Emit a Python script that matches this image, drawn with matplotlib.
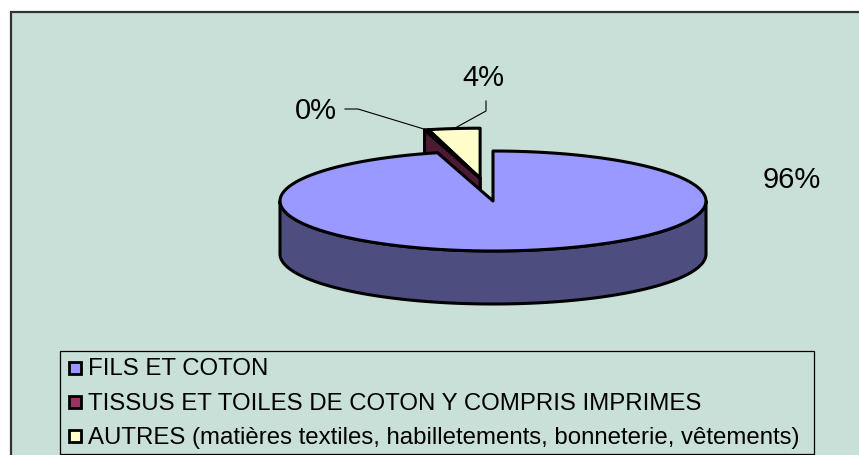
import matplotlib
matplotlib.use("Agg")
import matplotlib.pyplot as plt
from matplotlib.patches import Polygon, Rectangle
import numpy as np

plt.rcParams['font.family'] = ['Liberation Sans', 'DejaVu Sans']

# données
categories = ['FILS ET COTON',
              'TISSUS ET TOILES DE COTON Y COMPRIS IMPRIMES',
              'AUTRES (matières textiles, habilletements, bonneterie, vêtements)']
values = [95.8, 0.3, 3.9]
explode = [0.0, 0.46, 0.46]
top_colors = ['#9999FF', '#993366', '#FFFFCC']
side_colors = ['#4D4D80', '#4D1A33', '#808066']

# mise en page (pixels)
W, H = 859, 456
cx, cy, rx, ry, depth = 493, 202, 213, 50, 53
label_pos = [(792, 188), (337, 119), (483, 86)]
label_ha = ['center', 'right', 'center']
leader_pts = [None, [(358, 110), (345, 110)], [(486, 112), (486, 102)]]
bg = '#C8E0D8'
lw = 2.2

fig = plt.figure(figsize=(W / 100, H / 100), dpi=100)
fig.patch.set_facecolor('white')
ax = fig.add_axes([0, 0, 1, 1])
ax.set_xlim(0, W)
ax.set_ylim(H, 0)
ax.axis('off')

# cadre du graphique
ax.add_patch(Rectangle((10.5, 12.5), W + 20, H + 20, facecolor=bg,
                       edgecolor='#333333', lw=1.6, zorder=0))


def pt(ox, oy, a, z=0.0):
    return (ox + rx * np.cos(np.radians(a)), oy - ry * np.sin(np.radians(a)) + z)


def arc(ox, oy, a_from, a_to, z=0.0, n=120):
    return [pt(ox, oy, a, z) for a in np.linspace(a_from, a_to, n)]


# angles des secteurs (départ à 12h, sens horaire)
total = sum(values)
spans = []
start = 90.0
for v in values:
    end = start - v / total * 360
    spans.append((end, start))
    start = end

# direction d'éclatement commune aux secteurs détachés
exp_idx = [i for i, e in enumerate(explode) if e > 0]
grp_mid = (min(spans[i][0] for i in exp_idx) + max(spans[i][1] for i in exp_idx)) / 2
offsets = []
for e in explode:
    offsets.append((cx + e * rx * np.cos(np.radians(grp_mid)),
                    cy - e * ry * np.sin(np.radians(grp_mid))))

# ordre d'affichage : arrière d'abord
order = sorted(range(len(values)),
               key=lambda i: -np.sin(np.radians((spans[i][0] + spans[i][1]) / 2)))

for i in order:
    a1, a0 = spans[i]
    ox, oy = offsets[i]
    z = 6 + order.index(i) * 3
    # faces radiales visibles
    faces = []
    if np.sin(np.radians(a0 + 90)) < -1e-6:
        faces.append(a0)
    if np.cos(np.radians(a1)) > 1e-6:
        faces.append(a1)
    for a in faces:
        p_top = pt(ox, oy, a)
        poly = [(ox, oy), p_top, (p_top[0], p_top[1] + depth), (ox, oy + depth)]
        ax.add_patch(Polygon(poly, closed=True, facecolor=side_colors[i],
                             edgecolor='black', lw=lw, joinstyle='round', zorder=z))
    # paroi extérieure (partie avant)
    for k in range(-2, 2):
        lo, hi = max(a1, -180 + 360 * k), min(a0, 0 + 360 * k)
        if hi > lo:
            top = arc(ox, oy, lo, hi)
            bot = arc(ox, oy, hi, lo, depth)
            ax.add_patch(Polygon(top + bot, closed=True, facecolor=side_colors[i],
                                 edgecolor='black', lw=lw, joinstyle='round', zorder=z + 1))
    # face supérieure
    poly = [(ox, oy)] + arc(ox, oy, a0, a1)
    ax.add_patch(Polygon(poly, closed=True, facecolor=top_colors[i],
                         edgecolor='black', lw=lw, joinstyle='round', zorder=z + 2))

# étiquettes de pourcentage
for i, v in enumerate(values):
    pct = f"{round(v / total * 100):.0f}%"
    x, y = label_pos[i]
    ax.text(x, y, pct, fontsize=21, ha=label_ha[i], va='baseline', color='black', zorder=20)
    if leader_pts[i] is not None:
        a1, a0 = spans[i]
        ox, oy = offsets[i]
        anchor = pt(ox, oy, (a0 + a1) / 2)
        xs = [anchor[0]] + [p[0] for p in leader_pts[i]]
        ys = [anchor[1]] + [p[1] for p in leader_pts[i]]
        ax.plot(xs, ys, color='black', lw=0.8, zorder=20)

# légende
ax.add_patch(Rectangle((59.5, 351.5), 754, 103, facecolor=bg,
                       edgecolor='black', lw=0.9, zorder=15))
for i, name in enumerate(categories):
    base = 375.5 + i * 34.5
    ax.add_patch(Rectangle((69, base - 13), 12, 12, facecolor=top_colors[i],
                           edgecolor='black', lw=2.0, zorder=16))
    ax.text(88, base, name, fontsize=17.3, ha='left', va='baseline', color='black', zorder=16)

plt.savefig('out.png', dpi=100, facecolor='white')
